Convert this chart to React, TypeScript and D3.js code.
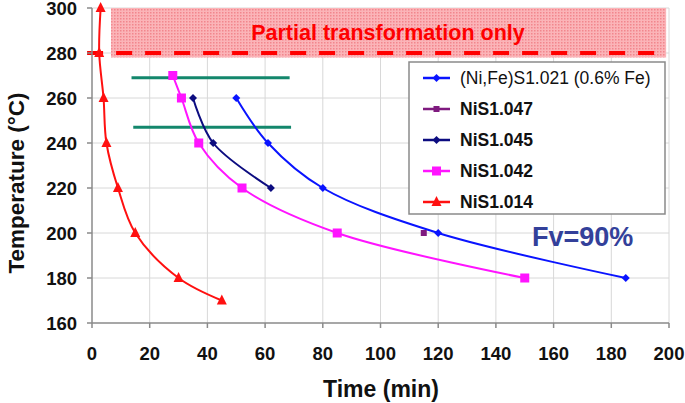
import * as d3 from "d3";

type Pt = [number, number];

const xTicks = [0, 20, 40, 60, 80, 100, 120, 140, 160, 180, 200];
const yTicks = [160, 180, 200, 220, 240, 260, 280, 300];

const seriesNames = [
  "(Ni,Fe)S1.021 (0.6% Fe)",
  "NiS1.047",
  "NiS1.045",
  "NiS1.042",
  "NiS1.014",
];
const seriesColors = ["#0a14ff", "#7f1a7f", "#0c0c80", "#ff14ff", "#ff1010"];
const seriesMarkers = ["diamond", "smallSquare", "diamond", "square", "triangle"];

const nife1021: Pt[] = [[50, 260], [61, 240], [80, 220], [120, 200], [185, 180]];
const nis1047: Pt[] = [[115, 200]];
const nis1045: Pt[] = [[35, 260], [42, 240], [62, 220]];
const nis1042: Pt[] = [[28, 270], [31, 260], [37, 240], [52, 220], [85, 200], [150, 180]];
const nis1014: Pt[] = [[3, 300], [2.5, 280], [4, 260], [5, 240], [9, 220], [15, 200], [30, 180], [45, 170]];
const seriesData = [nife1021, nis1047, nis1045, nis1042, nis1014];

// annotation values (data units)
const partialZone = { x0: 6.6, x1: 199, y0: 278, y1: 300 };
const partialLine = { y: 280, x0: -1.7, x1: 199 };
const greenLines = [
  { y: 269, x0: 13.7, x1: 68.5 },
  { y: 247, x0: 14.3, x1: 69 },
];

const W = 685;
const H = 403;
const FONT = "'Liberation Sans', Arial, sans-serif";

function Marker({ kind, x, y, color }: { kind: string; x: number; y: number; color: string }) {
  if (kind === "diamond") {
    const r = 4;
    return <path d={`M${x},${y - r}L${x + r},${y}L${x},${y + r}L${x - r},${y}Z`} fill={color} />;
  }
  if (kind === "square") {
    const s = 9;
    return <rect x={x - s / 2} y={y - s / 2} width={s} height={s} fill={color} />;
  }
  if (kind === "smallSquare") {
    const s = 6;
    return <rect x={x - s / 2} y={y - s / 2} width={s} height={s} fill={color} />;
  }
  const r = 5;
  return <path d={`M${x},${y - r - 1}L${x + r},${y + r - 1}L${x - r},${y + r - 1}Z`} fill={color} />;
}

export default function App() {
  const x = d3.scaleLinear().domain([0, 200]).range([92, 669]);
  const y = d3.scaleLinear().domain([160, 300]).range([323, 8]);

  const line = d3
    .line<Pt>()
    .x((d) => x(d[0]))
    .y((d) => y(d[1]))
    .curve(d3.curveCatmullRom.alpha(0.5));

  const legendX = 409;
  const legendY = 62;
  const legendRow = 31;

  return (
    <svg
      width={W}
      height={H}
      style={{ position: "absolute", left: 0, top: 0, background: "#fff" }}
      fontFamily={FONT}
    >
      <defs>
        <pattern id="dots" width="3" height="3" patternUnits="userSpaceOnUse">
          <rect width="3" height="3" fill="#fbb4b8" />
          <rect width="1.5" height="1.5" fill="#f2868d" />
        </pattern>
      </defs>

      {/* gridlines */}
      {xTicks.slice(1).map((t) => (
        <line key={"gx" + t} x1={x(t)} x2={x(t)} y1={y(300)} y2={y(160)} stroke="#d8d8d8" />
      ))}
      {yTicks.slice(1).map((t) => (
        <line key={"gy" + t} x1={x(0)} x2={x(200)} y1={y(t)} y2={y(t)} stroke="#d8d8d8" />
      ))}

      {/* partial transformation zone */}
      <rect
        x={x(partialZone.x0)}
        y={y(partialZone.y1)}
        width={x(partialZone.x1) - x(partialZone.x0)}
        height={y(partialZone.y0) - y(partialZone.y1)}
        fill="url(#dots)"
      />
      <line
        x1={x(partialLine.x0)}
        x2={x(partialLine.x1)}
        y1={y(partialLine.y)}
        y2={y(partialLine.y)}
        stroke="#ff0000"
        strokeWidth={4}
        strokeDasharray="16,13"
      />
      <text x={388} y={40} textAnchor="middle" fontSize={21.5} fontWeight="bold" fill="#ff0000">
        Partial transformation only
      </text>

      {/* axes */}
      <line x1={x(0)} x2={x(0)} y1={y(300)} y2={y(160)} stroke="#8a8a8a" strokeWidth={1.5} />
      <line x1={x(0)} x2={x(200)} y1={y(160)} y2={y(160)} stroke="#8a8a8a" strokeWidth={1.5} />
      {yTicks.map((t) => (
        <g key={"yt" + t}>
          <line x1={x(0) - 5} x2={x(0)} y1={y(t)} y2={y(t)} stroke="#8a8a8a" strokeWidth={1.5} />
          <text x={77} y={y(t) + 6.5} textAnchor="end" fontSize={18.5} fontWeight="bold" fill="#111">
            {t}
          </text>
        </g>
      ))}
      {xTicks.map((t) => (
        <g key={"xt" + t}>
          <line x1={x(t)} x2={x(t)} y1={y(160)} y2={y(160) + 5} stroke="#8a8a8a" strokeWidth={1.5} />
          <text x={x(t)} y={360} textAnchor="middle" fontSize={18.5} fontWeight="bold" fill="#111">
            {t}
          </text>
        </g>
      ))}
      <text x={381} y={397} textAnchor="middle" fontSize={23} fontWeight="bold" fill="#111">
        Time (min)
      </text>
      <text
        transform="translate(24,183) rotate(-90)"
        textAnchor="middle"
        fontSize={22.5}
        fontWeight="bold"
        fill="#111"
      >
        Temperature (°C)
      </text>

      {/* green reference bars */}
      {greenLines.map((g, i) => (
        <line key={"g" + i} x1={x(g.x0)} x2={x(g.x1)} y1={y(g.y)} y2={y(g.y)} stroke="#13876c" strokeWidth={3} />
      ))}

      {/* series */}
      {seriesData.map((data, i) => (
        <g key={"s" + i}>
          {data.length > 1 && (
            <path d={line(data) ?? ""} fill="none" stroke={seriesColors[i]} strokeWidth={2} />
          )}
          {data.map((d, j) => (
            <Marker key={j} kind={seriesMarkers[i]} x={x(d[0])} y={y(d[1])} color={seriesColors[i]} />
          ))}
        </g>
      ))}

      {/* Fv label */}
      <text x={532} y={246} fontSize={27} fontWeight="bold" fill="#33409a">
        Fv=90%
      </text>

      {/* legend */}
      <rect x={legendX} y={legendY} width={256} height={152} fill="#fff" stroke="#8a8a8a" strokeWidth={1.5} />
      {seriesNames.map((name, i) => {
        const cy = legendY + 16 + i * legendRow;
        return (
          <g key={"l" + i}>
            <line x1={423} x2={450} y1={cy} y2={cy} stroke={seriesColors[i]} strokeWidth={2.5} />
            <Marker kind={seriesMarkers[i]} x={436.5} y={cy} color={seriesColors[i]} />
            <text
              x={460}
              y={cy + 6}
              fontSize={17.5}
              fontWeight={i === 0 ? "normal" : "bold"}
              fill="#111"
            >
              {name}
            </text>
          </g>
        );
      })}
    </svg>
  );
}
